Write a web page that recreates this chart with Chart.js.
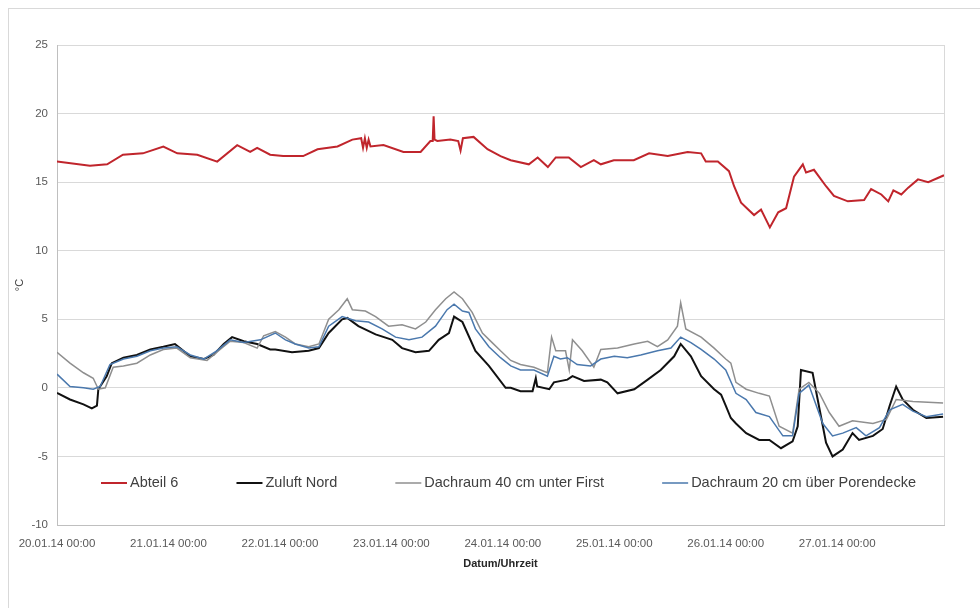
<!DOCTYPE html>
<html>
<head>
<meta charset="utf-8">
<script src="https://cdn.jsdelivr.net/npm/chart.js@4.4.1/dist/chart.umd.min.js"></script>
<style>
  html, body { margin: 0; padding: 0; background: #fff; overflow: hidden; }
  #frame { position: absolute; left: 8px; top: 8px; width: 1000px; height: 1000px; border: 1px solid #d9d9d9; }
  #wrap { position: absolute; left: 0; top: 0; width: 980px; height: 608px; }
</style>
</head>
<body>
<div id="frame"></div>
<div id="wrap"><canvas id="tempChart"></canvas></div>
<script>
// === DATEN (Stunden ab 20.01.14 00:00) ===
const dayTickHours = [0, 24, 48, 72, 96, 120, 144, 168];
const dayTickLabels = ["20.01.14 00:00", "21.01.14 00:00", "22.01.14 00:00", "23.01.14 00:00",
  "24.01.14 00:00", "25.01.14 00:00", "26.01.14 00:00", "27.01.14 00:00"];
const yTicks = [-10, -5, 0, 5, 10, 15, 20, 25];

const abteilHours = [0, 7.1, 10.8, 14.2, 18.5, 22.9, 25.9, 30.2, 34.5, 38.8, 41.6, 43.1, 45.9, 48.7, 53.0,
  56.1, 60.4, 63.6, 65.5, 65.9, 66.3, 66.7, 67.1, 67.5, 70.3, 74.6, 78.3, 80.4, 80.9, 81.1, 81.3, 81.9,
  84.7, 86.4, 86.9, 87.4, 89.7, 92.7, 95.5, 97.7, 101.6, 103.5, 105.7, 107.4, 110.2, 112.8, 115.6, 117.1,
  119.9, 124.2, 127.5, 131.5, 135.8, 138.7, 139.7, 142.3, 144.7, 145.8, 147.3, 150.1, 151.6, 153.5, 155.3,
  157.0, 158.7, 160.6, 161.3, 163.0, 165.6, 167.3, 170.3, 173.8, 175.3, 177.5, 179.0, 180.1, 181.8, 183.3,
  185.4, 187.6, 191.0];
const abteilTemp = [16.5, 16.2, 16.3, 17.0, 17.1, 17.6, 17.1, 17.0, 16.5, 17.7, 17.2, 17.5, 17.0, 16.9, 16.9,
  17.4, 17.6, 18.1, 18.2, 17.5, 18.2, 17.5, 18.1, 17.6, 17.7, 17.2, 17.2, 18.0, 18.0, 19.8, 18.1, 18.0,
  18.1, 18.0, 17.3, 18.2, 18.3, 17.4, 16.9, 16.6, 16.3, 16.8, 16.1, 16.8, 16.8, 16.1, 16.6, 16.3,
  16.6, 16.6, 17.1, 16.9, 17.2, 17.1, 16.5, 16.5, 15.8, 14.7, 13.5, 12.6, 13.0, 11.7, 12.8,
  13.1, 15.4, 16.3, 15.7, 15.9, 14.7, 14.0, 13.6, 13.7, 14.5, 14.1, 13.6, 14.4, 14.1, 14.6,
  15.2, 15.0, 15.5];

const zuluftHours = [0, 2.8, 5.7, 7.5, 8.6, 8.9, 10.7, 11.8, 14.3, 17.2, 20.1, 22.9, 25.4, 27.2, 28.7, 31.6,
  33.7, 35.9, 37.7, 40.2, 43.1, 45.9, 47.0, 50.6, 54.2, 56.4, 58.5, 61.4, 62.5, 64.9, 68.6, 72.2, 74.3,
  77.2, 80.1, 82.2, 84.4, 85.5, 87.3, 90.1, 93.0, 96.6, 97.7, 99.8, 102.4, 103.1, 103.4, 106.0, 107.0,
  109.9, 111.0, 113.5, 117.1, 118.5, 120.7, 124.3, 127.2, 130.0, 132.9, 134.3, 136.5, 138.7, 141.5, 143.0,
  144.0, 145.1, 146.2, 148.4, 151.2, 153.4, 155.9, 158.4, 159.5, 160.2, 162.7, 163.8, 165.6, 167.0, 169.2,
  171.3, 172.7, 175.7, 177.8, 179.3, 180.7, 182.1, 184.3, 187.2, 190.8];
const zuluftTemp = [-0.37, -0.85, -1.2, -1.5, -1.3, -0.1, 0.85, 1.8, 2.2, 2.4, 2.8, 3.0, 3.2, 2.7, 2.3, 2.1,
  2.4, 3.2, 3.7, 3.4, 3.2, 2.8, 2.8, 2.6, 2.7, 2.9, 4.0, 5.0, 5.1, 4.5, 3.9, 3.5, 2.9,
  2.6, 2.7, 3.5, 4.0, 5.2, 4.8, 2.7, 1.6, 0, 0, -0.25, -0.25, 0.7, 0.1, -0.1, 0.4,
  0.6, 0.85, 0.5, 0.6, 0.4, -0.4, -0.1, 0.6, 1.3, 2.3, 3.2, 2.3, 0.85, -0.1, -0.5,
  -1.3, -2.2, -2.6, -3.3, -3.8, -3.8, -4.4, -3.9, -2.8, 1.3, 1.1, -0.85, -4.0, -5.0, -4.5,
  -3.3, -3.8, -3.5, -3.0, -1.3, 0.1, -0.85, -1.6, -2.2, -2.1];

const first40Hours = [0, 2.8, 5.7, 7.8, 8.9, 10.4, 12.1, 14.3, 17.2, 20.1, 22.9, 25.8, 28.7, 32.3, 34.4,
  37.3, 40.2, 43.1, 44.5, 47.0, 49.2, 51.3, 54.2, 56.4, 58.5, 60.7, 62.5, 63.6, 66.4, 68.6, 71.4, 74.3,
  77.2, 79.4, 81.5, 83.7, 85.5, 87.3, 89.4, 91.6, 93.7, 95.5, 97.7, 99.8, 102.7, 105.6, 106.5, 107.4,
  109.5, 110.3, 111.0, 113.1, 115.6, 117.1, 120.7, 124.3, 127.2, 129.3, 131.5, 133.6, 134.3, 135.4, 138.7,
  141.5, 144.0, 145.1, 146.2, 148.4, 151.2, 153.4, 155.5, 158.4, 159.8, 161.9, 164.2, 166.3, 168.4, 171.3,
  175.7, 178.6, 180.7, 184.3, 190.8];
const first40Temp = [2.6, 1.8, 1.1, 0.7, -0.1, 0, 1.5, 1.6, 1.8, 2.4, 2.8, 2.9, 2.2, 2.0, 2.6,
  3.4, 3.3, 2.9, 3.8, 4.1, 3.7, 3.2, 3.0, 3.2, 5.0, 5.7, 6.5, 5.7, 5.6, 5.2, 4.5, 4.6,
  4.3, 4.8, 5.7, 6.5, 7.0, 6.5, 5.5, 4.0, 3.3, 2.7, 2.0, 1.7, 1.5, 1.1, 3.7, 2.7,
  2.7, 1.3, 3.5, 2.7, 1.5, 2.8, 2.9, 3.2, 3.4, 3.0, 3.5, 4.5, 6.2, 4.3, 3.7,
  2.9, 2.1, 1.8, 0.4, -0.1, -0.4, -0.6, -2.8, -3.3, -0.1, 0.4, -0.4, -1.8, -2.8, -2.4,
  -2.6, -2.3, -0.85, -1.0, -1.1];

const decke20Hours = [0, 2.8, 5.7, 7.8, 9.3, 11.4, 14.3, 17.2, 20.1, 22.9, 25.8, 28.7, 31.6, 34.4, 37.3,
  40.2, 43.8, 47.0, 49.2, 51.3, 54.2, 56.4, 58.5, 61.4, 64.3, 67.1, 70.0, 72.9, 75.8, 78.6, 81.5, 84.0,
  85.5, 87.3, 88.7, 90.1, 93.0, 95.5, 97.7, 99.8, 102.7, 105.6, 107.0, 108.4, 109.9, 112.0, 114.9, 117.1,
  120.0, 122.8, 125.7, 129.3, 132.2, 134.3, 136.5, 138.7, 141.5, 144.0, 146.2, 148.4, 150.5, 153.4, 156.3,
  158.4, 159.8, 161.9, 164.9, 167.0, 169.2, 172.1, 174.2, 177.1, 179.3, 182.1, 184.3, 187.2, 190.8];
const decke20Temp = [1.0, 0.1, 0, -0.1, 0.1, 1.7, 2.1, 2.3, 2.7, 2.9, 3.0, 2.4, 2.1, 2.7, 3.5,
  3.3, 3.5, 4.0, 3.5, 3.2, 2.9, 3.0, 4.5, 5.2, 4.9, 4.8, 4.3, 3.7, 3.5, 3.7, 4.5, 5.7,
  6.1, 5.6, 5.5, 4.3, 3.0, 2.2, 1.6, 1.3, 1.3, 0.85, 2.3, 2.1, 2.2, 1.7, 1.6, 2.1,
  2.3, 2.2, 2.4, 2.7, 2.9, 3.7, 3.3, 2.8, 2.1, 1.3, -0.4, -0.85, -1.8, -2.1, -3.5,
  -3.5, -0.4, 0.2, -2.6, -3.5, -3.3, -2.9, -3.5, -2.9, -1.6, -1.2, -1.7, -2.1, -1.9];

function toPoints(hours, temps) {
  return hours.map((h, i) => ({ x: h, y: temps[i] }));
}

const FONT = '"Liberation Sans", Arial, sans-serif';

// === LEGENDE IM DIAGRAMM ===
const insideLegend = {
  id: "insideLegend",
  afterDraw(chart) {
    const ctx = chart.ctx;
    const sets = chart.data.datasets;
    const lineLen = 26, textGap = 3, startX = 101, endX = 916, y = 483;
    ctx.save();
    ctx.font = "14.5px " + FONT;
    const widths = sets.map(ds => lineLen + textGap + ctx.measureText(ds.label).width);
    const sum = widths.reduce((a, b) => a + b, 0);
    const gap = (endX - startX - sum) / (sets.length - 1);
    let x = startX;
    sets.forEach((ds, i) => {
      ctx.strokeStyle = ds.borderColor;
      ctx.lineWidth = ds.legendWidth;
      ctx.beginPath();
      ctx.moveTo(x, y);
      ctx.lineTo(x + lineLen, y);
      ctx.stroke();
      ctx.fillStyle = "#404040";
      ctx.textBaseline = "middle";
      ctx.fillText(ds.label, x + lineLen + textGap, y);
      x += widths[i] + gap;
    });
    ctx.restore();
  },
};

// rechte Begrenzung der Zeichenfläche
const plotFrame = {
  id: "plotFrame",
  beforeDatasetsDraw(chart) {
    const { ctx, chartArea } = chart;
    ctx.save();
    ctx.strokeStyle = "#d9d9d9";
    ctx.lineWidth = 1;
    ctx.beginPath();
    ctx.moveTo(Math.round(chartArea.right) + 0.5, chartArea.top);
    ctx.lineTo(Math.round(chartArea.right) + 0.5, chartArea.bottom);
    ctx.stroke();
    ctx.restore();
  },
};

new Chart(document.getElementById("tempChart"), {
  type: "line",
  data: {
    datasets: [
      { label: "Abteil 6", data: toPoints(abteilHours, abteilTemp), borderColor: "#c0252c",
        borderWidth: 2, legendWidth: 2, order: 3 },
      { label: "Zuluft Nord", data: toPoints(zuluftHours, zuluftTemp), borderColor: "#111111",
        borderWidth: 2, legendWidth: 2, order: 2 },
      { label: "Dachraum 40 cm unter First", data: toPoints(first40Hours, first40Temp), borderColor: "#8f8f8f",
        borderWidth: 1.5, legendWidth: 1.5, order: 1 },
      { label: "Dachraum 20 cm über Porendecke", data: toPoints(decke20Hours, decke20Temp), borderColor: "#4a78ad",
        borderWidth: 1.5, legendWidth: 1.5, order: 0 },
    ],
  },
  options: {
    responsive: true,
    maintainAspectRatio: false,
    animation: false,
    parsing: true,
    elements: { point: { radius: 0 }, line: { tension: 0, fill: false } },
    layout: { padding: { left: 10, top: 45, right: 36, bottom: 33 } },
    plugins: { legend: { display: false }, tooltip: { enabled: false } },
    scales: {
      x: {
        type: "linear",
        min: 0,
        max: 191,
        afterBuildTicks: s => { s.ticks = dayTickHours.map(v => ({ value: v })); },
        afterFit: s => { s.height = 50; },
        grid: { display: false, drawTicks: false },
        border: { display: true, color: "#bfbfbf" },
        ticks: {
          padding: 12, maxRotation: 0, autoSkip: false, color: "#595959",
          font: { family: FONT, size: 11.5 },
          callback: (v, i) => dayTickLabels[i],
        },
        title: {
          display: true, text: "Datum/Uhrzeit", color: "#262626",
          font: { family: FONT, size: 11, weight: "bold" }, padding: { top: 2, bottom: 4 },
        },
      },
      y: {
        min: -10,
        max: 25,
        afterBuildTicks: s => { s.ticks = yTicks.map(v => ({ value: v })); },
        afterFit: s => { s.width = 47; },
        grid: { color: "#d9d9d9", drawTicks: false },
        border: { display: true, color: "#bfbfbf" },
        ticks: { padding: 9, color: "#595959", font: { family: FONT, size: 11.5 } },
        title: {
          display: true, text: "°C", color: "#404040",
          font: { family: FONT, size: 11 }, padding: { top: 3, bottom: 0 },
        },
      },
    },
  },
  plugins: [plotFrame, insideLegend],
});
</script>
</body>
</html>
